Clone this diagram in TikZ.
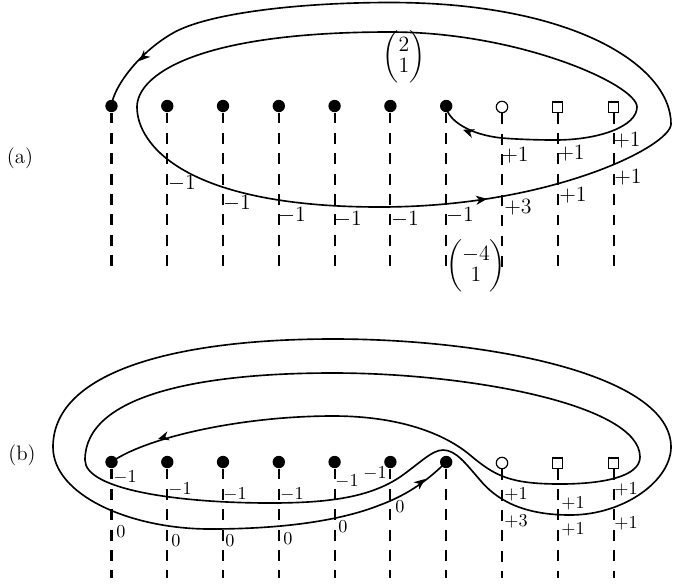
\documentclass[tikz,border=0pt]{standalone}
\usepackage{amsmath}
\usetikzlibrary{arrows.meta}
\newcommand{\twovec}[2]{\left(\begin{array}{@{}c@{}}#1\\[-1.5pt]#2\end{array}\right)}
\begin{document}
\begin{tikzpicture}[x=0.55pt,y=-0.55pt,
  curve/.style={line width=0.9pt},
  dashln/.style={line width=1.15pt, dash pattern=on 6pt off 5.2pt},
  fdot/.style={circle,fill,inner sep=0pt,minimum size=6.8pt},
  odot/.style={circle,draw,line width=0.65pt,inner sep=0pt,minimum size=6.3pt},
  sqnode/.style={rectangle,draw,line width=0.65pt,inner sep=0pt,minimum size=5.6pt},
  tip/.style={-{Stealth[length=6pt,width=5pt,inset=1.8pt]},line width=0.9pt},
  lab/.style={inner sep=0pt,font=\fontsize{11.5}{13}\selectfont},
  slab/.style={inner sep=0pt,font=\fontsize{10}{12}\selectfont}]
\useasboundingbox (0,0) rectangle (673,587);
% markers
\foreach \i/\x in {1/111.5,2/167.3,3/223,4/278.8,5/334.6,6/390.4,7/446.2}{
  \node[fdot] (a\i) at (\x,106) {};
  \node[fdot] (b\i) at (\x,462) {};
}
\node[odot] (a8) at (502,107) {};
\node[sqnode] (a9) at (557.8,107) {};
\node[sqnode] (a10) at (613.6,107) {};
\node[odot] (b8) at (502,463) {};
\node[sqnode] (b9) at (557.8,463) {};
\node[sqnode] (b10) at (613.6,463) {};
\coordinate (aend) at (0,267);
\coordinate (bend) at (0,578);
\foreach \i in {1,...,10}{
  \draw[dashln] (a\i.south) -- (a\i.south |- aend);
  \draw[dashln] (b\i.south) -- (b\i.south |- bend);
}
% (a) curve
\draw[curve] (a7.center) .. controls (447,120) and (470,135) .. (502,138)
  .. controls (520,139.5) and (540,140) .. (555,140)
  .. controls (600,140) and (637,126) .. (637,107)
  .. controls (637,85) and (520,32) .. (390,32)
  .. controls (194,32) and (137,76) .. (137,107)
  .. controls (137,144) and (184,207) .. (380,207)
  .. controls (551,207) and (671,146) .. (671,124)
  .. controls (671,66) and (574,2.5) .. (390,2.5)
  .. controls (300,2.5) and (208,13) .. (173,33)
  .. controls (138,53) and (113,88) .. (a1.center);
\draw[tip] (468,131.6) -- (463,129.8);
\draw[tip] (482,199.5) -- (487,198.9);
\draw[tip] (143,57.4) -- (139.2,61);
% (a) labels
\node[lab] at (20,158) {(a)};
\node[lab] at (404,57) {$\twovec{2}{1}$};
\node[lab] at (476,266) {$\twovec{-4}{1}$};
\node[lab] at (182,183) {$-1$};
\node[lab] at (237,203) {$-1$};
\node[lab] at (292,215) {$-1$};
\node[lab] at (348,219) {$-1$};
\node[lab] at (405,219) {$-1$};
\node[lab] at (460,215) {$-1$};
\node[lab] at (515,155) {$+1$};
\node[lab] at (571,153) {$+1$};
\node[lab] at (627,140) {$+1$};
\node[lab] at (518,207) {$+3$};
\node[lab] at (573,195) {$+1$};
\node[lab] at (628,177) {$+1$};
% (b) curve
\draw[curve] (b1.center) .. controls (145,438) and (240,416) .. (333,416)
  .. controls (400,416) and (445,434) .. (470,455)
  .. controls (495,476) and (510,484) .. (560,484)
  .. controls (605,484) and (640,476) .. (640,457)
  .. controls (640,405) and (470,373) .. (333,373)
  .. controls (200,373) and (85,395) .. (85,460)
  .. controls (85,490) and (180,503) .. (270,503)
  .. controls (330,503) and (370,497) .. (400,477)
  .. controls (420,463) and (432,450) .. (443,450)
  .. controls (456,450) and (466,464) .. (480,480)
  .. controls (495,498) and (520,515) .. (570,515)
  .. controls (625,515) and (671,480) .. (671,447)
  .. controls (671,375) and (490,339) .. (333,339)
  .. controls (180,339) and (53,370) .. (53,447)
  .. controls (53,495) and (130,529) .. (210,529)
  .. controls (290,529) and (345,519) .. (380,505)
  .. controls (410,494) and (430,478) .. (b7.center);
\draw[tip] (163,437.5) -- (158,439);
\draw[tip] (420,483) -- (425,479);
% (b) labels
\node[lab] at (22,455) {(b)};
\node[slab] at (125,477) {$-1$};
\node[slab] at (180,489) {$-1$};
\node[slab] at (235,494) {$-1$};
\node[slab] at (292,494) {$-1$};
\node[slab] at (347,481) {$-1$};
\node[slab] at (375,473) {$-1$};
\node[slab] at (121,532) {$0$};
\node[slab] at (176,541) {$0$};
\node[slab] at (230,541) {$0$};
\node[slab] at (288,539) {$0$};
\node[slab] at (343,527) {$0$};
\node[slab] at (400,507) {$0$};
\node[slab] at (516,494) {$+1$};
\node[slab] at (516,521) {$+3$};
\node[slab] at (573,503) {$+1$};
\node[slab] at (573,529) {$+1$};
\node[slab] at (626,489) {$+1$};
\node[slab] at (626,523) {$+1$};
\end{tikzpicture}
\end{document}
